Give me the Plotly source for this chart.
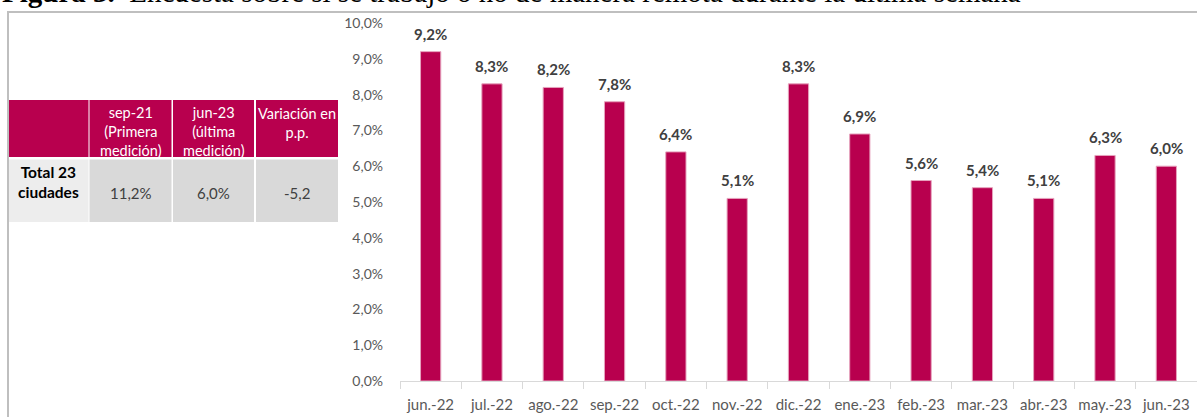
import plotly.graph_objects as go

# ---------------- data ----------------
months = ["jun.-22", "jul.-22", "ago.-22", "sep.-22", "oct.-22", "nov.-22", "dic.-22",
          "ene.-23", "feb.-23", "mar.-23", "abr.-23", "may.-23", "jun.-23"]
values = [9.2, 8.3, 8.2, 7.8, 6.4, 5.1, 8.3, 6.9, 5.6, 5.4, 5.1, 6.3, 6.0]

y_ticks = [0, 1, 2, 3, 4, 5, 6, 7, 8, 9, 10]

title_bold = "Figura 3."
title_rest = "Encuesta sobre si se trabajó o no de manera remota durante la última semana"

table_headers = ["", "sep-21<br>(Primera<br>medición)", "jun-23<br>(última<br>medición)", "Variación en<br>p.p."]
table_row_label = "Total 23<br>ciudades"
table_values = [11.2, 6.0, -5.2]
table_suffix = ["%", "%", ""]

# ---------------- layout constants ----------------
W, H = 1197, 417
L, R, T, B = 400, 0, 23, 36
PW = W - L - R
PH = H - T - B

MAGENTA = "#B8004E"
GREY_TXT = "#595959"
LABEL_TXT = "#404040"
FONT = "Lato"


def px_x(p):
    return (p - L) / PW


def px_y(p):
    return (H - B - p) / PH


def fmt(v, suffix):
    return f"{v:.1f}".replace(".", ",") + suffix


fig = go.Figure()
fig.add_trace(go.Bar(
    x=months, y=values,
    marker=dict(color=MAGENTA, line=dict(color="#E6A3BD", width=1)),
    hoverinfo="skip",
))

annotations = []
# data labels
for m, v in zip(months, values):
    annotations.append(dict(
        x=m, y=v, xref="x", yref="y", text=fmt(v, "%"), showarrow=False,
        yanchor="bottom", yshift=7,
        font=dict(family=FONT, size=15, color=LABEL_TXT, weight="bold"),
    ))

# title (mostly clipped at top)
annotations.append(dict(
    x=px_x(0), y=px_y(10), xref="paper", yref="paper", xanchor="left", yanchor="bottom",
    text=f"<b>{title_bold}</b>  {title_rest}", showarrow=False,
    font=dict(family="Liberation Serif", size=29, color="black"),
))

shapes = []
# outer frame (top and left border)
shapes.append(dict(type="line", xref="paper", yref="paper",
                   x0=px_x(8), x1=px_x(8), y0=px_y(12), y1=px_y(H + 2),
                   line=dict(color="#BFBFBF", width=2)))
shapes.append(dict(type="line", xref="paper", yref="paper",
                   x0=px_x(7), x1=px_x(W + 2), y0=px_y(12), y1=px_y(12),
                   line=dict(color="#BFBFBF", width=2)))

# table
col_left = [8.5, 89.5, 173, 256]
col_w = [80, 82, 81, 82]
hdr_top, hdr_bot = 100, 157
body_top, body_bot = 159.5, 222
hdr_text_center = [128, 131.5, 131.5, 123]
for i in range(4):
    x0, x1 = col_left[i], col_left[i] + col_w[i]
    shapes.append(dict(type="rect", xref="paper", yref="paper",
                       x0=px_x(x0), x1=px_x(x1), y0=px_y(hdr_bot), y1=px_y(hdr_top),
                       fillcolor=MAGENTA, line=dict(width=0), layer="below"))
    shapes.append(dict(type="rect", xref="paper", yref="paper",
                       x0=px_x(x0), x1=px_x(x1), y0=px_y(body_bot), y1=px_y(body_top),
                       fillcolor="#EDEDED" if i == 0 else "#D9D9D9",
                       line=dict(width=0), layer="below"))
    cx = px_x((x0 + x1) / 2)
    if table_headers[i]:
        annotations.append(dict(
            x=cx, y=px_y(hdr_text_center[i]), xref="paper", yref="paper",
            xanchor="center", yanchor="middle", text=table_headers[i], showarrow=False,
            font=dict(family=FONT, size=14.5, color="white"),
        ))
    if i == 0:
        annotations.append(dict(
            x=cx, y=px_y(182), xref="paper", yref="paper",
            xanchor="center", yanchor="middle", text=table_row_label, showarrow=False,
            font=dict(family=FONT, size=15.5, color="black", weight="bold"),
        ))
    else:
        annotations.append(dict(
            x=cx, y=px_y(192.5), xref="paper", yref="paper",
            xanchor="center", yanchor="middle",
            text=fmt(table_values[i - 1], table_suffix[i - 1]), showarrow=False,
            font=dict(family=FONT, size=15, color=LABEL_TXT),
        ))

fig.update_layout(
    width=W, height=H,
    margin=dict(l=L, r=R, t=T, b=B, autoexpand=False),
    paper_bgcolor="white", plot_bgcolor="white",
    showlegend=False,
    bargap=0.67,
    annotations=annotations,
    shapes=shapes,
    xaxis=dict(
        type="category", tickson="boundaries", ticks="outside", ticklen=7,
        tickcolor="#D9D9D9", showline=True, linecolor="#D9D9D9", linewidth=1,
        showgrid=False, automargin=False, ticklabelstandoff=10, tickangle=0,
        tickfont=dict(family=FONT, size=15, color=GREY_TXT),
    ),
    yaxis=dict(
        range=[0, 10], tickmode="array", tickvals=y_ticks,
        ticktext=[fmt(t, "%") for t in y_ticks],
        showgrid=False, zeroline=False, showline=False, ticks="",
        ticklabelstandoff=16, automargin=False,
        tickfont=dict(family=FONT, size=14, color=GREY_TXT),
    ),
)

fig.write_html(
    "out.html",
    config={"displayModeBar": False},
    post_script="document.body.style.margin='0';document.body.style.overflow='hidden';",
)
